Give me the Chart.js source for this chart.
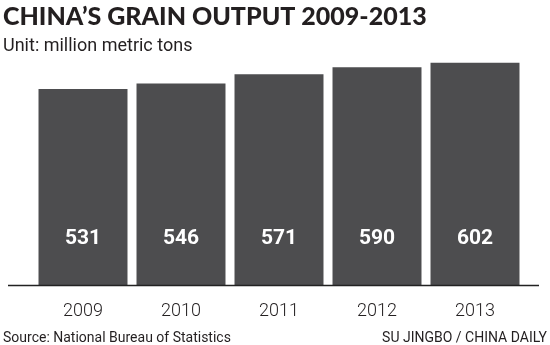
<!DOCTYPE html>
<html>
<head>
<meta charset="utf-8">
<script src="https://cdn.jsdelivr.net/npm/chart.js@4.4.1/dist/chart.umd.min.js"></script>
<style>
  html, body { margin: 0; padding: 0; background: #fff; }
  #wrap { width: 550px; height: 345px; position: relative; }
</style>
</head>
<body>
<div id="wrap"><canvas id="grainChart"></canvas></div>
<script>
const years = ["2009", "2010", "2011", "2012", "2013"];
const output = [531, 546, 571, 590, 602];
const sourceNote = "Source: National Bureau of Statistics";
const credit = "SU JINGBO / CHINA DAILY";

const barColor = "#4d4d4f";
const ink = "#231f20";
const plain = "Roboto, 'Liberation Sans', sans-serif";

// values inside the bars, the base rule and the footer lines
const grainExtras = {
  id: "grainExtras",
  afterDatasetsDraw(chart) {
    const { ctx, scales } = chart;
    const base = scales.y.getPixelForValue(0);
    ctx.save();
    ctx.fillStyle = "#fff";
    ctx.font = "bold 21px " + plain;
    ctx.textAlign = "center";
    ctx.textBaseline = "middle";
    chart.getDatasetMeta(0).data.forEach((bar, i) => {
      ctx.fillText(String(output[i]), bar.x, base - 46);
    });

    ctx.strokeStyle = "#222";
    ctx.lineWidth = 1.5;
    ctx.beginPath();
    ctx.moveTo(8, base + 0.5);
    ctx.lineTo(539, base + 0.5);
    ctx.stroke();

    ctx.fillStyle = ink;
    ctx.font = "14px " + plain;
    ctx.textBaseline = "alphabetic";
    ctx.textAlign = "left";
    ctx.fillText(sourceNote, 3, 342);
    ctx.textAlign = "right";
    ctx.fillText(credit, 547, 342);
    ctx.restore();
  }
};

new Chart(document.getElementById("grainChart"), {
  type: "bar",
  data: {
    labels: years,
    datasets: [{
      data: output,
      backgroundColor: barColor,
      borderWidth: 0,
      barPercentage: 0.908,
      categoryPercentage: 1
    }]
  },
  options: {
    responsive: true,
    maintainAspectRatio: false,
    animation: false,
    layout: { padding: { left: 3, right: 26, top: 0, bottom: 5 } },
    plugins: {
      legend: { display: false },
      tooltip: { enabled: false },
      title: {
        display: true,
        text: "CHINA\u2019S GRAIN OUTPUT 2009-2013",
        align: "start",
        color: ink,
        font: { family: "Lato, 'Open Sans', sans-serif", size: 25, weight: 900 },
        padding: { top: 2, bottom: 0 }
      },
      subtitle: {
        display: true,
        text: "Unit: million metric tons",
        align: "start",
        color: ink,
        font: { family: plain, size: 18, weight: "normal" },
        padding: { top: 4, bottom: 0 }
      }
    },
    scales: {
      x: {
        grid: { display: false },
        border: { display: false },
        ticks: { color: ink, padding: 8, font: { family: plain, size: 18, weight: 300 } },
        afterFit(scale) { scale.height = 55; }
      },
      y: {
        min: 0,
        max: 616,
        grid: { display: false },
        border: { display: false },
        ticks: { display: false },
        afterFit(scale) { scale.width = 31; }
      }
    }
  },
  plugins: [grainExtras]
});
</script>
</body>
</html>
